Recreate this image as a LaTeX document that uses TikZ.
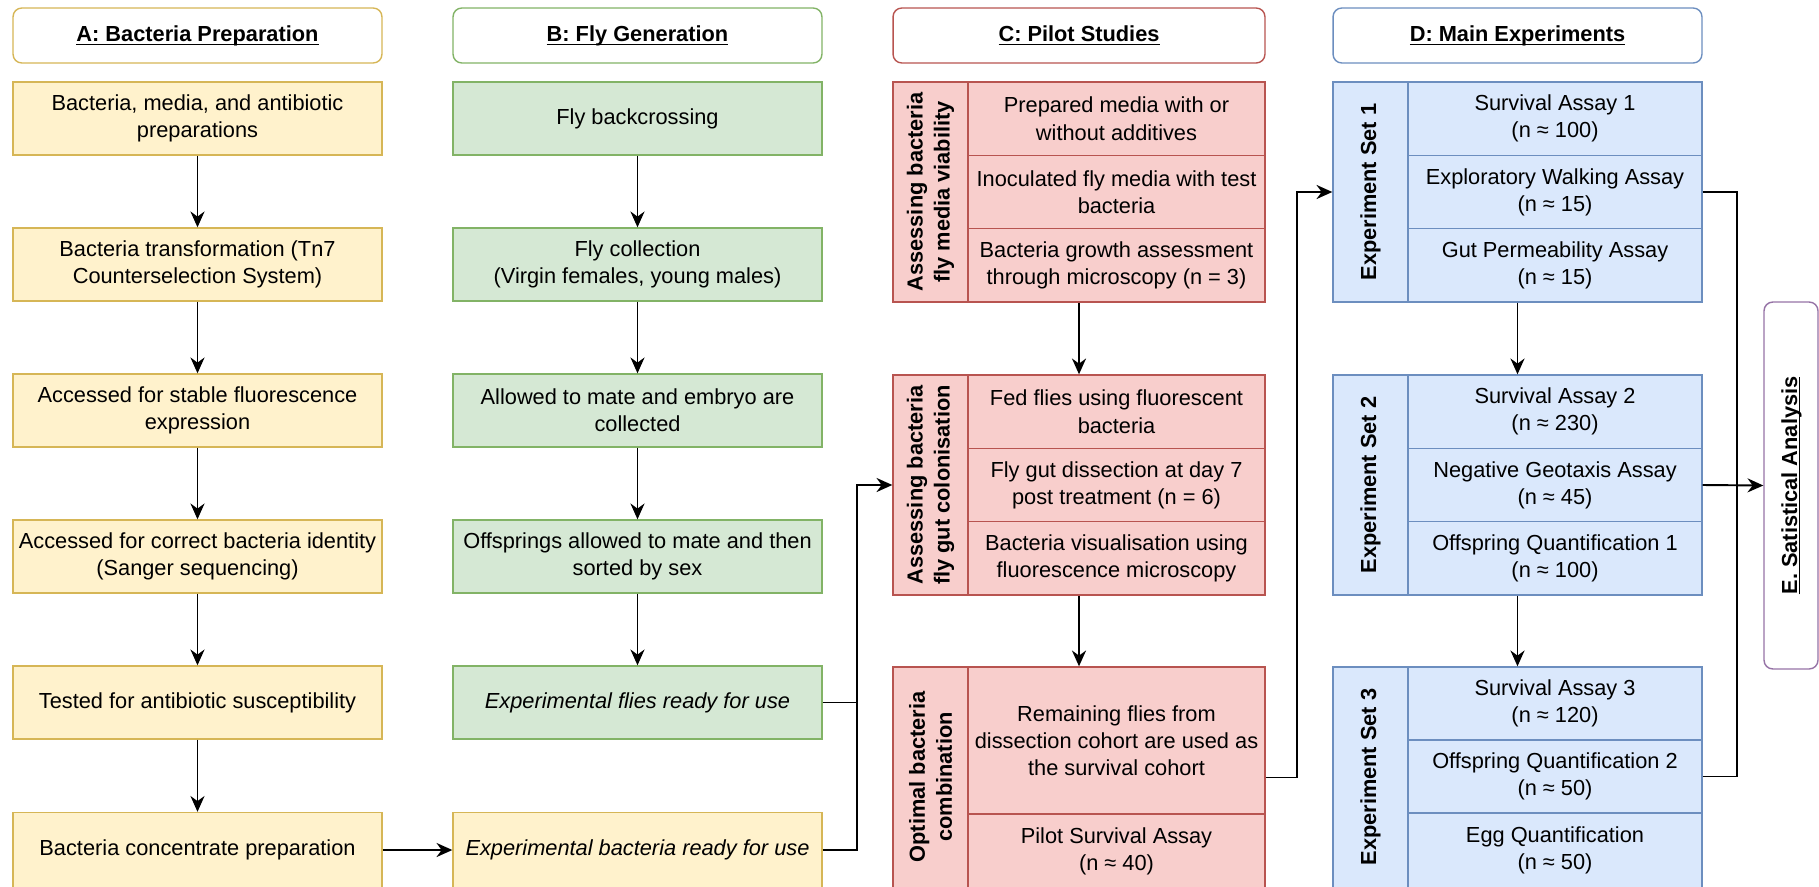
\documentclass[tikz,border=0pt]{standalone}
\usepackage{fontspec}
\setmainfont{Liberation Sans}
\newcommand{\ulin}[1]{\underline{\raisebox{0pt}[\height][0pt]{#1}}}
\usetikzlibrary{arrows.meta}
\definecolor{yelfill}{HTML}{FFF2CC}
\definecolor{yelline}{HTML}{D6B656}
\definecolor{grnfill}{HTML}{D5E8D4}
\definecolor{grnline}{HTML}{82B366}
\definecolor{redfill}{HTML}{F8CECC}
\definecolor{redline}{HTML}{B85450}
\definecolor{blufill}{HTML}{DAE8FC}
\definecolor{bluline}{HTML}{6C8EBF}
\definecolor{purline}{HTML}{9673A6}
\begin{document}
\begin{tikzpicture}[x=0.02cm,y=-0.02cm,
  font=\fontsize{12.4}{15.4}\selectfont,
  >={Stealth[length=9pt,width=8pt]},
  every node/.style={align=center,inner sep=2pt},
  title/.style={draw=#1line,fill=white,rounded corners=5pt,line width=0.8pt,minimum width=7.38cm,minimum height=1.1cm,font=\fontsize{12.4}{15.4}\selectfont\bfseries},
  box/.style={draw=#1line,fill=#1fill,line width=0.8pt,minimum width=7.38cm,minimum height=1.46cm},
  cell/.style={draw=#1line,fill=#1fill,line width=0.8pt,minimum width=5.94cm,minimum height=1.4667cm},
  group/.style={draw=#1line,fill=#1fill,line width=0.8pt,minimum width=7.44cm,minimum height=4.4cm},
  side/.style={rotate=90,font=\fontsize{12.4}{15.4}\selectfont\bfseries},
  link/.style={line width=1.1pt}]
\useasboundingbox (0,0) rectangle (1819,886);

\node[title=yel] (ta) at (197.5,35.5) {\ulin{A: Bacteria Preparation}};
\node[title=grn] (tb) at (637.5,35.5) {\ulin{B: Fly Generation}};
\node[title=red,minimum width=7.44cm] (tc) at (1079,35.5) {\ulin{C: Pilot Studies}};
\node[title=blu] (td) at (1517.5,35.5) {\ulin{D: Main Experiments}};

\node[box=yel] (a1) at (197.5,118.5) {Bacteria, media, and antibiotic\\preparations};
\node[box=yel] (a2) at (197.5,264.5) {Bacteria transformation (Tn7\\Counterselection System)};
\node[box=yel] (a3) at (197.5,410.5) {Accessed for stable fluorescence\\expression};
\node[box=yel] (a4) at (197.5,556.5) {Accessed for correct bacteria identity\\(Sanger sequencing)};
\node[box=yel] (a5) at (197.5,702.5) {Tested for antibiotic susceptibility};
\node[box=yel,minimum height=1.5cm] (a6) at (197.5,850) {Bacteria concentrate preparation};

\node[box=grn] (b1) at (637.5,118.5) {Fly backcrossing};
\node[box=grn] (b2) at (637.5,264.5) {Fly collection\\(Virgin females, young males)};
\node[box=grn] (b3) at (637.5,410.5) {Allowed to mate and embryo are\\collected};
\node[box=grn] (b4) at (637.5,556.5) {Offsprings allowed to mate and then\\sorted by sex};
\node[box=grn] (b5) at (637.5,702.5) {\itshape Experimental flies ready for use};
\node[box=yel,minimum height=1.5cm] (b6) at (637.5,850) {\itshape Experimental bacteria ready for use};

\node[group=red] (c1) at (1079,192) {};
\node[side] (c1s) at (930.5,192) {Assessing bacteria\\fly media viability};
\node[cell=red] (c1a) at (1116.5,118.7) {Prepared media with or\\without additives};
\node[cell=red] (c1b) at (1116.5,192) {Inoculated fly media with test\\bacteria};
\node[cell=red] (c1c) at (1116.5,265.3) {Bacteria growth assessment\\through microscopy (n = 3)};

\node[group=red] (c2) at (1079,485) {};
\node[side] (c2s) at (930.5,485) {Assessing bacteria\\fly gut colonisation};
\node[cell=red] (c2a) at (1116.5,411.7) {Fed flies using fluorescent\\bacteria};
\node[cell=red] (c2b) at (1116.5,485) {Fly gut dissection at day 7\\post treatment (n = 6)};
\node[cell=red] (c2c) at (1116.5,558.3) {Bacteria visualisation using\\fluorescence microscopy};

\node[group=red,minimum height=4.42cm] (c3) at (1079,777.5) {};
\node[side] (c3s) at (930.5,777) {Optimal bacteria\\combination};
\node[cell=red,minimum height=2.94cm] (c3a) at (1116.5,740.5) {Remaining flies from\\dissection cohort are used as\\the survival cohort};
\node[cell=red,minimum height=1.48cm] (c3b) at (1116.5,851) {Pilot Survival Assay\\(n ≈ 40)};

\node[group=blu,minimum width=7.38cm] (d1) at (1517.5,192) {};
\node[side] (d1s) at (1370.5,192) {Experiment Set 1};
\node[cell=blu,minimum width=5.88cm] (d1a) at (1555,118.7) {Survival Assay 1\\(n ≈ 100)};
\node[cell=blu,minimum width=5.88cm] (d1b) at (1555,192) {Exploratory Walking Assay\\(n ≈ 15)};
\node[cell=blu,minimum width=5.88cm] (d1c) at (1555,265.3) {Gut Permeability Assay\\(n ≈ 15)};

\node[group=blu,minimum width=7.38cm] (d2) at (1517.5,485) {};
\node[side] (d2s) at (1370.5,485) {Experiment Set 2};
\node[cell=blu,minimum width=5.88cm] (d2a) at (1555,411.7) {Survival Assay 2\\(n ≈ 230)};
\node[cell=blu,minimum width=5.88cm] (d2b) at (1555,485) {Negative Geotaxis Assay\\(n ≈ 45)};
\node[cell=blu,minimum width=5.88cm] (d2c) at (1555,558.3) {Offspring Quantification 1\\(n ≈ 100)};

\node[group=blu,minimum width=7.38cm,minimum height=4.42cm] (d3) at (1517.5,777.5) {};
\node[side] (d3s) at (1370.5,777) {Experiment Set 3};
\node[cell=blu,minimum width=5.88cm,minimum height=1.46cm] (d3a) at (1555,703.5) {Survival Assay 3\\(n ≈ 120)};
\node[cell=blu,minimum width=5.88cm,minimum height=1.46cm] (d3b) at (1555,776.5) {Offspring Quantification 2\\(n ≈ 50)};
\node[cell=blu,minimum width=5.88cm,minimum height=1.5cm] (d3c) at (1555,850.5) {Egg Quantification\\(n ≈ 50)};

\node[draw=purline,fill=white,rounded corners=5pt,line width=0.8pt,minimum width=1.08cm,minimum height=7.34cm] (e) at (1791,485.5) {};
\node[side] (es) at (e) {\ulin{E. Satistical Analysis}};

\coordinate (bj) at (857,485);
\coordinate (cj) at (1297,192);
\coordinate (dj) at (1737,485);

\draw[link,->] (a1) -- (a2);
\draw[link,->] (a2) -- (a3);
\draw[link,->] (a3) -- (a4);
\draw[link,->] (a4) -- (a5);
\draw[link,->] (a5) -- (a6);
\draw[link,->] (b1) -- (b2);
\draw[link,->] (b2) -- (b3);
\draw[link,->] (b3) -- (b4);
\draw[link,->] (b4) -- (b5);
\draw[link,->] (a6) -- (b6);
\draw[link] (b5.east) -| (bj);
\draw[link,->] (b6.east) -| (bj) -- (c2.west);
\draw[link,->] (c1) -- (c2);
\draw[link,->] (c2) -- (c3);
\draw[link,->] (c3.east) -| (cj) -- (d1.west);
\draw[link,->] (d1) -- (d2);
\draw[link,->] (d2) -- (d3);
\draw[link] (d1b.east) -| (dj);
\draw[link] (d3b.east) -| (dj);
\draw[link,->] (d2b.east) -- (e.west);
\end{tikzpicture}
\end{document}
